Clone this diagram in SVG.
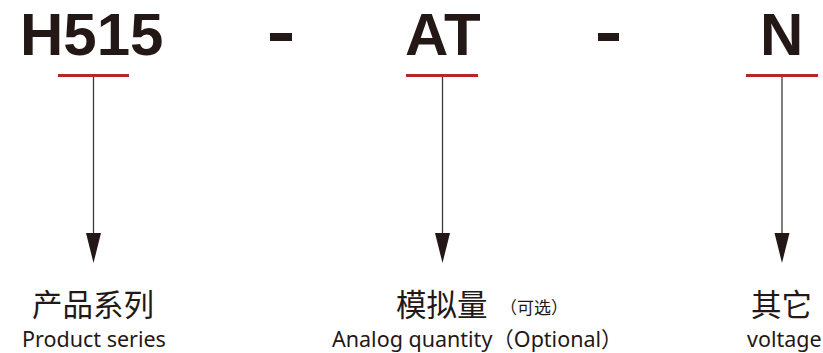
<svg xmlns="http://www.w3.org/2000/svg" width="823" height="353" viewBox="0 0 823 353">
<style>
.code{font-family:"Liberation Sans","Noto Sans",sans-serif;font-weight:bold;font-size:60px;fill:#231815}
.cn{font-family:"Noto Sans CJK SC","Noto Sans",sans-serif;font-size:30.5px;fill:#231815}
.cns{font-family:"Noto Sans CJK SC","Noto Sans",sans-serif;font-size:17px;fill:#231815}
.en{font-family:"Noto Sans","Noto Sans CJK SC",sans-serif;font-size:21.5px;fill:#231815}
.red{stroke:#b3262a;stroke-width:3}
.conn{stroke:#3a3a3a;stroke-width:1.3;fill:none}
.head{fill:#231815}
</style>
<g id="code-h515">
<text class="code" x="20" y="55">H515</text>
<line class="red" x1="58" y1="75.5" x2="129" y2="75.5"/>
</g>
<g id="dash1"><rect x="270" y="33" width="22" height="8" fill="#231815"/></g>
<g id="code-at">
<text class="code" x="405" y="55">AT</text>
<line class="red" x1="406" y1="75.5" x2="478" y2="75.5"/>
</g>
<g id="dash2"><rect x="598" y="33" width="21" height="8" fill="#231815"/></g>
<g id="code-n">
<text class="code" x="760" y="55">N</text>
<line class="red" x1="746" y1="75.5" x2="818" y2="75.5"/>
</g>
<g id="connectors">
<line class="conn" x1="93.5" y1="77" x2="93.5" y2="234"/>
<polygon class="head" points="86,233 101,233 93.5,263"/>
<line class="conn" x1="442.5" y1="77" x2="442.5" y2="234"/>
<polygon class="head" points="435,233 450,233 442.5,263"/>
<line class="conn" x1="782" y1="77" x2="782" y2="234"/>
<polygon class="head" points="774.5,233 789.5,233 782,263"/>
</g>
<g id="label-series">
<text class="cn" x="32" y="316">产品系列</text>
<text class="en" x="22" y="347">Product series</text>
</g>
<g id="label-analog">
<text class="cn" x="396" y="316">模拟量</text>
<text class="cns" x="500" y="314">（可选）</text>
<text class="en" x="332" y="347">Analog quantity（Optional）</text>
</g>
<g id="label-other">
<text class="cn" x="751" y="316">其它</text>
<text class="en" x="747" y="347">voltage</text>
</g>
</svg>
